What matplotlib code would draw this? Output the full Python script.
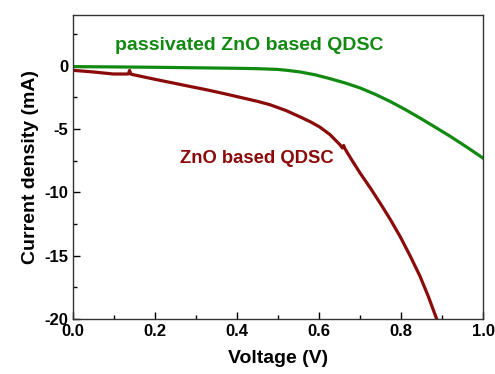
import matplotlib
matplotlib.use('Agg')
import matplotlib.pyplot as plt
from matplotlib.ticker import MultipleLocator, FormatStrFormatter

# passivated ZnO based QDSC
v_pass = [0.0, 0.1, 0.2, 0.3, 0.4, 0.45, 0.5, 0.527, 0.554, 0.59, 0.627,
          0.665, 0.7, 0.737, 0.773, 0.81, 0.846, 0.883, 0.92, 0.96, 1.0]
j_pass = [-0.08, -0.1, -0.13, -0.17, -0.21, -0.24, -0.3, -0.39, -0.5,
          -0.72, -1.03, -1.38, -1.76, -2.26, -2.82, -3.46, -4.13, -4.85,
          -5.58, -6.42, -7.3]

# ZnO based QDSC
v_zno = [0.0, 0.05, 0.098, 0.135, 0.138, 0.141, 0.146, 0.2, 0.244, 0.285,
         0.325, 0.37, 0.41, 0.45, 0.48, 0.52, 0.554, 0.58, 0.602, 0.627,
         0.651, 0.657, 0.66, 0.664, 0.68, 0.7, 0.725, 0.749, 0.774, 0.798,
         0.822, 0.846, 0.867, 0.887]
j_zno = [-0.37, -0.5, -0.66, -0.66, -0.38, -0.66, -0.71, -1.08, -1.37,
         -1.64, -1.9, -2.22, -2.52, -2.82, -3.08, -3.55, -4.05, -4.45,
         -4.85, -5.45, -6.24, -6.5, -6.3, -6.6, -7.45, -8.47, -9.65, -10.85,
         -12.15, -13.5, -15.0, -16.6, -18.25, -20.0]

plt.rcParams['font.family'] = ['Liberation Sans', 'DejaVu Sans']
plt.rcParams['font.weight'] = 'bold'
plt.rcParams['axes.unicode_minus'] = False

fig = plt.figure(figsize=(4.95, 3.74), dpi=100)
ax = fig.add_axes([0.1475, 0.147, 0.8283, 0.813])

green = '#128A12'
wine = '#8B0A0A'
ax.plot(v_pass, j_pass, color=green, lw=2.3)
ax.plot(v_zno, j_zno, color=wine, lw=2.3)

ax.text(0.102, 1.6, 'passivated ZnO based QDSC', color=green,
        fontsize=14, fontweight='bold', ha='left', va='center')
ax.text(0.261, -7.35, 'ZnO based QDSC', color=wine, fontsize=13.3,
        fontweight='bold', ha='left', va='center')

ax.set_xlim(0, 1.0)
ax.set_ylim(-20, 4)
ax.xaxis.set_major_locator(MultipleLocator(0.2))
ax.xaxis.set_minor_locator(MultipleLocator(0.1))
ax.xaxis.set_major_formatter(FormatStrFormatter('%.1f'))
ax.yaxis.set_major_locator(MultipleLocator(5))
ax.yaxis.set_minor_locator(MultipleLocator(2.5))
ax.tick_params(which='both', direction='in', top=False, right=False,
               labelsize=12, width=1)
ax.tick_params(which='major', length=5)
ax.tick_params(which='minor', length=3)
for lab in ax.get_xticklabels() + ax.get_yticklabels():
    lab.set_fontweight('bold')
for s in ax.spines.values():
    s.set_linewidth(1)
    s.set_color('#333333')

ax.set_xlabel('Voltage (V)', fontsize=14, fontweight='bold', labelpad=8)
ax.set_ylabel('Current density (mA)', fontsize=14, fontweight='bold', labelpad=4)

fig.savefig('out.png', dpi=100, facecolor='white')
